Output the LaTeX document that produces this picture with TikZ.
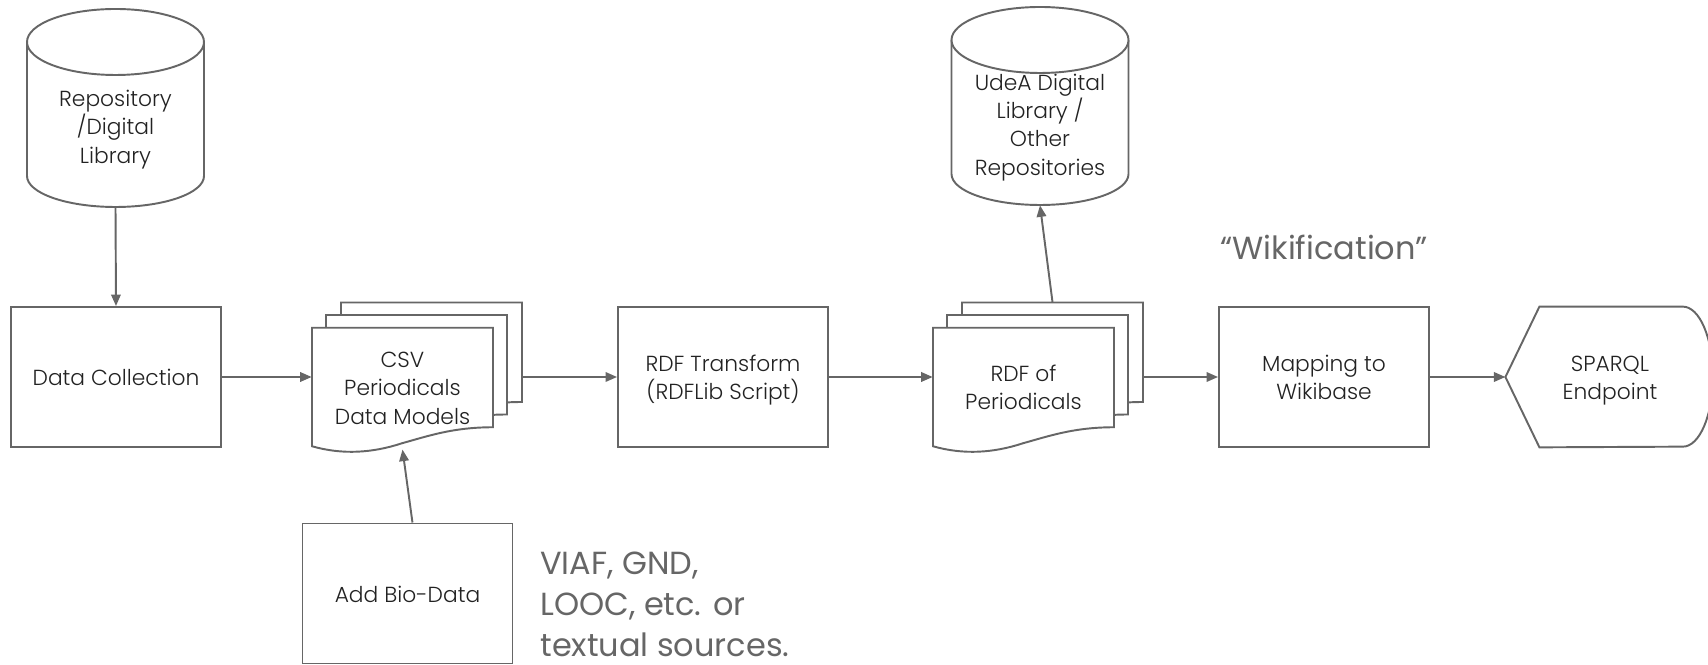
\documentclass[tikz,border=0pt]{standalone}
\usepackage{fontspec}
\setmainfont{Poppins}[UprightFont=* Light]
\newfontfamily\notefont{Poppins}
\usepackage{tikz}
\usepackage{color}
\usetikzlibrary{arrows.meta}
\definecolor{linegrey}{HTML}{666666}
\definecolor{labelgrey}{HTML}{222222}
\newcommand{\toprule}{\rule{0pt}{14.8pt}}
\tikzset{
  boxlabel/.style={text=labelgrey, align=center, font=\fontsize{12.4}{16.2}\selectfont},
  stepbox/.style={draw=linegrey, line width=1.1pt, minimum width=4.2cm, minimum height=2.8cm, boxlabel},
  storebox/.style={minimum width=3.54cm, minimum height=3.24cm, inner sep=0pt, boxlabel},
  pagebox/.style={minimum width=3.62cm, minimum height=2.37cm, inner sep=0pt, boxlabel},
  pageline/.style={draw=linegrey, fill=white, line width=1.1pt},
  flow/.style={draw=linegrey, line width=1.1pt, -{Triangle[length=.23cm,width=.19cm]}},
  note/.style={text=linegrey, align=left, anchor=west, inner sep=0pt, font=\notefont\fontsize{18.2}{23.3}\selectfont}
}
% #1 name, #2 centre, #3 text
\newcommand{\wavepage}[3]{
  \draw[pageline, shift={(#2)}] (-1.81,-1.185) -- (-1.81,1.185) -- (1.81,1.185) -- (1.81,-.805)
    .. controls (1,-.805) and (.5,-.985) .. (-.01,-1.125)
    .. controls (-.6,-1.32) and (-1.2,-1.36) .. (-1.81,-1.185) -- cycle;
  \node (#1) at (#2) [pagebox] {#3};
}
\newcommand{\storenode}[3]{
  \draw[pageline, shift={(#2)}] (-1.77,1.68) -- (-1.77,-1) arc[start angle=180, end angle=360, x radius=1.77, y radius=.62] -- (1.77,1.68);
  \draw[pageline, shift={(#2)}] (0,1.68) ellipse [x radius=1.77, y radius=.66];
  \node (#1) at (#2) [storebox] {#3};
}

\begin{document}
\begin{tikzpicture}[scale=1]
      \useasboundingbox (0,0) rectangle (34.16,13.28);
      \storenode{repo}{2.31,10.76}{\toprule Repository\\/Digital\\Library\strut}
      \node (collect) at (2.32,5.74) [stepbox] {\toprule Data Collection\strut};
      \wavepage{csvback}{8.63,6.045}{}
      \wavepage{csvmid}{8.33,5.795}{}
      \wavepage{csvfront}{8.05,5.54}{\toprule CSV\\Periodicals\\Data Models\strut}
      \node (bio) at (8.15,1.41) [stepbox] {\toprule Add Bio-Data\strut};
      \node (rdftr) at (14.46,5.74) [stepbox] {\toprule RDF Transform\\(RDFLib Script)\strut};
      \wavepage{rdfback}{21.05,6.045}{}
      \wavepage{rdfmid}{20.75,5.795}{}
      \wavepage{rdffront}{20.47,5.54}{\toprule RDF of\\Periodicals\strut}
      \storenode{udea}{20.8,10.8}{\toprule UdeA Digital\\Library /\\Other\\Repositories\strut}
      \node (mapping) at (26.48,5.74) [stepbox] {\toprule Mapping to\\Wikibase\strut};
      \node (sparql) at (32.2,5.74) [minimum width=4.17cm, minimum height=2.8cm, boxlabel] {\toprule SPARQL\\Endpoint\strut};
      \draw[draw=linegrey, line width=1.1pt] (sparql.west) -- ([xshift=.68cm]sparql.north west)
        -- ([xshift=3.55cm]sparql.north west) arc[start angle=90, end angle=-90, x radius=.6, y radius=1.4]
        -- ([xshift=.68cm]sparql.south west) -- cycle;
      \node (wiki) at (24.4,8.34) [note] {“Wikification”};
      \node (viaf) at (10.8,1.2) [note] {VIAF, GND,\\LOOC, etc. or\\textual sources.};
      \draw[flow] (repo.south) to (collect.north);
      \draw[flow] (collect.east) to (collect.east -| csvfront.west);
      \draw[flow] (bio.86) to ([yshift=-.06cm]csvfront.south);
      \draw[flow] (csvback.east |- rdftr.west) to (rdftr.west);
      \draw[flow] (rdftr.east) to (rdftr.east -| rdffront.west);
      \draw[flow] (rdfback.north) to (udea.south);
      \draw[flow] (rdfback.east |- mapping.west) to (mapping.west);
      \draw[flow] (mapping.east) to (sparql.west);
    \end{tikzpicture}
\end{document}
